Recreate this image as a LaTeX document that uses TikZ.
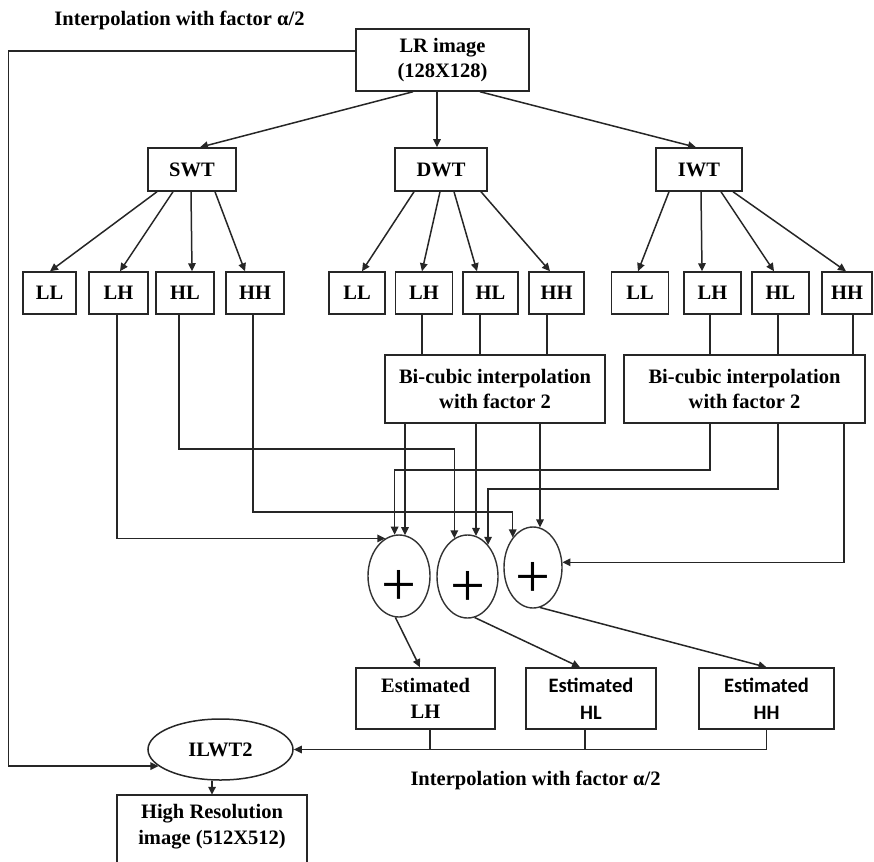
\documentclass[tikz,border=0pt]{standalone}
\usepackage{fontspec}
\setmainfont{Liberation Serif}
\newfontfamily\estsans{Carlito}
\usetikzlibrary{arrows.meta,shapes.geometric}

\newcommand\lblfont{\bfseries\fontsize{20.5}{25.5}\selectfont}
\newcommand\estsansfont{\estsans\bfseries\fontsize{20.5}{27}\selectfont}
\newcommand\plusglyphfont{\fontsize{62}{62}\selectfont}

\tikzset{
  box/.style={draw=black!85, line width=1.5pt, rectangle, inner sep=0pt, align=center, font=\lblfont},
  dims/.style 2 args={minimum width=#1pt, minimum height=#2pt},
  sumnode/.style={draw=black!80, line width=1.4pt, ellipse, inner sep=0pt,
    label={[font=\plusglyphfont, inner sep=0pt, yshift=-12pt]center:+}},
  arr/.style={draw=black!85, line width=1.5pt, -{Triangle[length=8pt,width=7.5pt]}},
  ln/.style={draw=black!85, line width=1.5pt},
  caption/.style={font=\lblfont, inner sep=0pt}
}

\begin{document}
\begin{tikzpicture}[x=1pt,y=-1pt]
\useasboundingbox (0,0) rectangle (874,861);
\clip (0,0) rectangle (874,861);

% captions
\node[caption] (capTop) at (179.5,20) {Interpolation with factor α/2};
\node[caption] (capBot) at (535.5,780) {Interpolation with factor α/2};

% input and transforms
\node[box, dims={173}{62}] (lr) at (442.5,60) {LR image\\(128X128)};
\node[box, dims={88}{43}] (swt) at (192,169.5) {SWT};
\node[box, dims={92}{43}] (dwt) at (441,169.5) {DWT};
\node[box, dims={86}{43}] (iwt) at (699,169.5) {IWT};

% sub-bands
\node[box, dims={53}{42}] (sLL) at (49.5,293) {LL};
\node[box, dims={59}{42}] (sLH) at (118.5,293) {LH};
\node[box, dims={58}{42}] (sHL) at (185,293) {HL};
\node[box, dims={58}{42}] (sHH) at (255,293) {HH};
\node[box, dims={56}{42}] (dLL) at (357,293) {LL};
\node[box, dims={57}{42}] (dLH) at (424,293) {LH};
\node[box, dims={55}{42}] (dHL) at (490.5,293) {HL};
\node[box, dims={55}{42}] (dHH) at (556.5,293) {HH};
\node[box, dims={57}{42}] (iLL) at (640,293) {LL};
\node[box, dims={57}{42}] (iLH) at (712.5,293) {LH};
\node[box, dims={57}{42}] (iHL) at (780.5,293) {HL};
\node[box, dims={50}{42}] (iHH) at (847,293) {HH};

% bi-cubic interpolation
\node[box, dims={220}{68}] (bic1) at (495,389) {Bi-cubic interpolation\\with factor 2};
\node[box, dims={241}{68}] (bic2) at (744.5,389) {Bi-cubic interpolation\\with factor 2};

% adders
\node[sumnode, dims={62}{82}] (p1) at (399,576) {};
\node[sumnode, dims={61}{83}] (p2) at (467.5,576.5) {};
\node[sumnode, dims={58}{81}] (p3) at (533,567.5) {};

% estimated sub-bands
\node[box, dims={139}{61}] (eLH) at (425.5,698.5) {Estimated\\LH};
\node[box, dims={130}{61}, font=\estsansfont] (eHL) at (591,698.5) {Estimated\\HL};
\node[box, dims={135}{61}, font=\estsansfont] (eHH) at (766.5,698.5) {Estimated\\HH};

% inverse transform and output
\node[draw=black!85, line width=1.5pt, ellipse, inner sep=0pt, dims={145}{61}, font=\lblfont] (ilwt) at (220.5,749.5) {ILWT2};
\node[inner sep=0pt, dims={190}{63}, align=center, font=\lblfont] (hr) at (212,826.5) {High Resolution\\image (512X512)};
\draw[ln] ([yshift=-30pt]hr.south west) |- (hr.north east) -- ([yshift=-30pt]hr.south east);

% LR image to transforms
\draw[arr] ([xshift=-29.5pt]lr.south) -- ([xshift=8pt]swt.north);
\draw[arr] ([xshift=-5.5pt]lr.south) -- ([xshift=-4pt]dwt.north);
\draw[arr] ([xshift=37.5pt]lr.south) -- ([xshift=-3pt]iwt.north);

% transforms to sub-bands
\draw[arr] ([xshift=-35pt]swt.south) -- ([xshift=0.5pt]sLL.north);
\draw[arr] ([xshift=-19pt]swt.south) -- ([xshift=1.5pt]sLH.north);
\draw[arr] ([xshift=-1pt]swt.south) -- ([xshift=7pt]sHL.north);
\draw[arr] ([xshift=23pt]swt.south) -- ([xshift=-10pt]sHH.north);
\draw[arr] ([xshift=-27pt]dwt.south) -- ([xshift=5pt]dLL.north);
\draw[arr] ([xshift=-1pt]dwt.south) -- ([xshift=-2pt]dLH.north);
\draw[arr] ([xshift=13pt]dwt.south) -- ([xshift=-13.5pt]dHL.north);
\draw[arr] ([xshift=40pt]dwt.south) -- ([xshift=-6.5pt]dHH.north);
\draw[arr] ([xshift=-30pt]iwt.south) -- ([xshift=-2pt]iLL.north);
\draw[arr] ([xshift=2pt]iwt.south) -- ([xshift=-10.5pt]iLH.north);
\draw[arr] ([xshift=22pt]iwt.south) -- ([xshift=-6.5pt]iHL.north);
\draw[arr] ([xshift=34pt]iwt.south) -- ([xshift=-1pt]iHH.north);

% detail sub-bands into the interpolators
\draw[ln] ([xshift=-2pt]dLH.south) -- ([xshift=-2pt]dLH.south |- bic1.north);
\draw[ln] ([xshift=-10.5pt]dHL.south) -- ([xshift=-10.5pt]dHL.south |- bic1.north);
\draw[ln] ([xshift=-9.5pt]dHH.south) -- ([xshift=-9.5pt]dHH.south |- bic1.north);
\draw[ln] ([xshift=-2.5pt]iLH.south) -- ([xshift=-2.5pt]iLH.south |- bic2.north);
\draw[ln] ([xshift=-2.5pt]iHL.south) -- ([xshift=-2.5pt]iHL.south |- bic2.north);
\draw[ln] ([xshift=6pt]iHH.south) -- ([xshift=6pt]iHH.south |- bic2.north);

% DWT interpolator outputs
\draw[arr] ([xshift=-90pt]bic1.south) -- ([xshift=-90pt]bic1.south |- p1.81);
\draw[arr] ([xshift=-19pt]bic1.south) -- ([xshift=-19pt]bic1.south |- p2.78);
\draw[arr] ([xshift=45pt]bic1.south) -- ([xshift=45pt]bic1.south |- p3.80);

% IWT interpolator outputs
\draw[arr] ([xshift=-34.5pt]bic2.south) -- ++(0,46) -| (p1.96);
\draw[arr] ([xshift=33.5pt]bic2.south) -- ++(0,65) -| (p2.57);
\draw[arr] ([xshift=99.5pt]bic2.south) |- (p3.10);

% SWT sub-bands
\draw[arr] ([xshift=-1.5pt]sLH.south) |- (p1.110);
\draw[arr] ([xshift=-6pt]sHL.south) -- ++(0,134) -| (p2.109);
\draw[arr] ([xshift=-2pt]sHH.south) -- ++(0,197) -| (p3.124);

% adders to estimates
\draw[arr] (p1.-95) -- ([xshift=-5.5pt]eLH.north);
\draw[arr] (p2.-80) -- ([xshift=-11pt]eHL.north);
\draw[arr] (p3.-80) -- (eHH.north);

% estimates to the inverse transform
\draw[ln] ([xshift=4.5pt]eLH.south) -- ([xshift=4.5pt]eLH.south |- ilwt.east);
\draw[ln] ([xshift=-6pt]eHL.south) -- ([xshift=-6pt]eHL.south |- ilwt.east);
\draw[arr] (eHH.south) |- (ilwt.east);

% LR image straight to the inverse transform
\draw[arr] ([yshift=9pt]lr.west) -- ++(-347,0) |- (ilwt.195);

% output
\draw[arr] (hr.north |- ilwt.south) -- (hr.north);
\end{tikzpicture}
\end{document}
